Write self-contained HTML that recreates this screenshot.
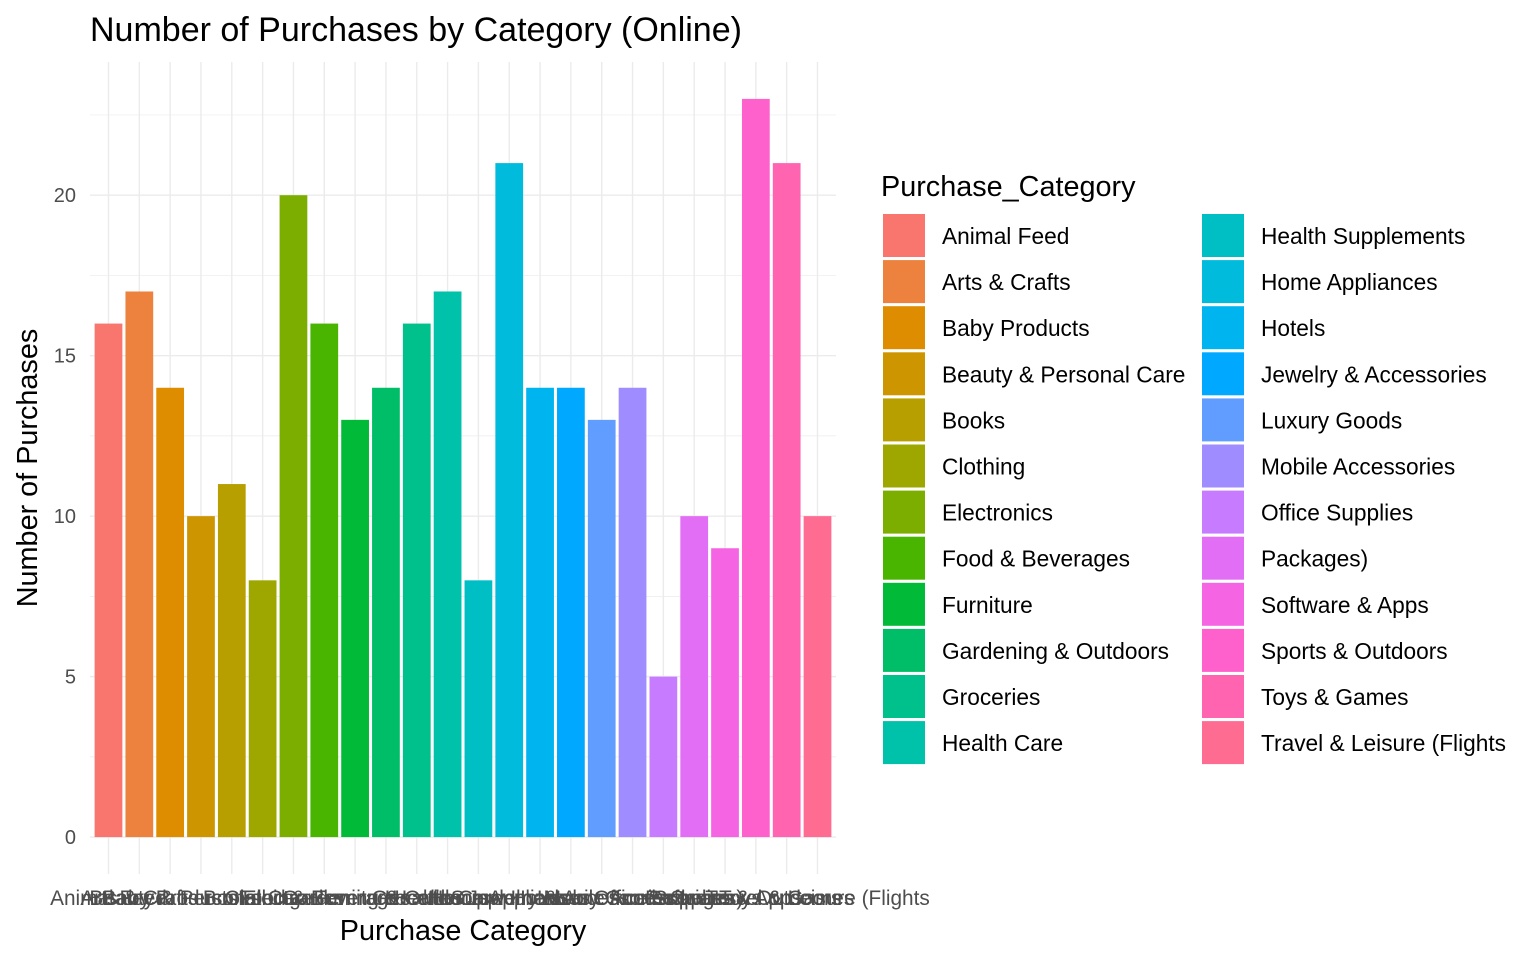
<!DOCTYPE html>
<html><head><meta charset="utf-8"><style>
html,body{margin:0;padding:0;background:#fff;}
svg{display:block;font-family:"Liberation Sans",Arial,sans-serif;}
</style></head><body>
<svg id="chart" width="1536" height="960"></svg>
<script>
const categories=["Animal Feed","Arts & Crafts","Baby Products","Beauty & Personal Care","Books","Clothing","Electronics","Food & Beverages","Furniture","Gardening & Outdoors","Groceries","Health Care","Health Supplements","Home Appliances","Hotels","Jewelry & Accessories","Luxury Goods","Mobile Accessories","Office Supplies","Packages)","Software & Apps","Sports & Outdoors","Toys & Games","Travel & Leisure (Flights"];
const purchases=[16,17,14,10,11,8,20,16,13,14,16,17,8,21,14,14,13,14,5,10,9,23,21,10];
const yTicks=[0,5,10,15,20];

const NS="http://www.w3.org/2000/svg";
const svg=document.getElementById('chart');
function mk(tag,attrs,parent){const e=document.createElementNS(NS,tag);for(const k in attrs)e.setAttribute(k,attrs[k]);(parent||svg).appendChild(e);return e;}
function hcl(h){const L=65,C=100,hr=h*Math.PI/180;const u=C*Math.cos(hr),v=C*Math.sin(hr);
const Xn=95.047,Yn=100,Zn=108.883;const den=Xn+15*Yn+3*Zn;const un=4*Xn/den,vn=9*Yn/den;
const Y=Yn*Math.pow((L+16)/116,3);const up=u/(13*L)+un,vp=v/(13*L)+vn;
const X=Y*9*up/(4*vp),Z=Y*(12-3*up-20*vp)/(4*vp);
const x=X/100,y=Y/100,z=Z/100;
let r=3.2404542*x-1.5371385*y-0.4985314*z,g=-0.9692660*x+1.8760108*y+0.0415560*z,b=0.0556434*x-0.2040259*y+1.0572252*z;
const gm=c=>{c=c<=0.0031308?12.92*c:1.055*Math.pow(c,1/2.4)-0.055;return Math.round(Math.max(0,Math.min(1,c))*255);};
return `rgb(${gm(r)},${gm(g)},${gm(b)})`;}
const n=categories.length;
const colors=categories.map((c,i)=>hcl(15+360/n*i));
const pL=90,pR=836,pT=62,pB=874;
const yMax=Math.max(...purchases);const yLo=-0.05*yMax,yHi=yMax*1.05;
const ys=v=>pB-(v-yLo)/(yHi-yLo)*(pB-pT);
const step=(pR-pL)/(n-1+1.2);
const xs=i=>pL+step*0.6+i*step;
const grid=mk('g',{});
for(let t=2.5;t<yHi;t+=5){mk('line',{x1:pL,x2:pR,y1:ys(t),y2:ys(t),stroke:'#ebebeb','stroke-width':0.7},grid);}
yTicks.forEach(t=>mk('line',{x1:pL,x2:pR,y1:ys(t),y2:ys(t),stroke:'#ebebeb','stroke-width':1.4},grid));
categories.forEach((c,i)=>mk('line',{x1:xs(i),x2:xs(i),y1:pT,y2:pB,stroke:'#ebebeb','stroke-width':1.4},grid));
categories.forEach((c,i)=>{const b=mk('rect',{x:xs(i)-step*0.45,y:ys(purchases[i]),width:step*0.9,height:ys(0)-ys(purchases[i]),fill:colors[i]});

});
yTicks.forEach(t=>{const e=mk('text',{x:76,y:ys(t)+7,'text-anchor':'end','font-size':20,fill:'#4d4d4d'});e.textContent=t;
});
categories.forEach((c,i)=>{const e=mk('text',{x:xs(i),y:905,'text-anchor':'middle','font-size':20.8,fill:'#4d4d4d'});e.textContent=c;
});
let e=mk('text',{x:463,y:940,'text-anchor':'middle','font-size':28.8,fill:'#000',});e.textContent='Purchase Category';
e=mk('text',{x:0,y:0,transform:'translate(37,468) rotate(-90)','text-anchor':'middle','font-size':28.8,fill:'#000',});e.textContent='Number of Purchases';
e=mk('text',{x:90,y:41,'font-size':34,fill:'#000',});e.textContent='Number of Purchases by Category (Online)';
const lg=mk('g',{});
e=mk('text',{x:881,y:196,'font-size':28.8,fill:'#000',},lg);e.textContent='Purchase_Category';
const half=Math.ceil(n/2);
categories.forEach((c,i)=>{const col=Math.floor(i/half),row=i%half;const kx=883+col*319,ky=214+row*46.1;
const r=mk('rect',{x:kx,y:ky,width:42,height:43,fill:colors[i]},lg);

const t=mk('text',{x:kx+59,y:ky+30,'font-size':22.7,fill:'#000'},lg);t.textContent=c;
});
</script>
</body></html>
